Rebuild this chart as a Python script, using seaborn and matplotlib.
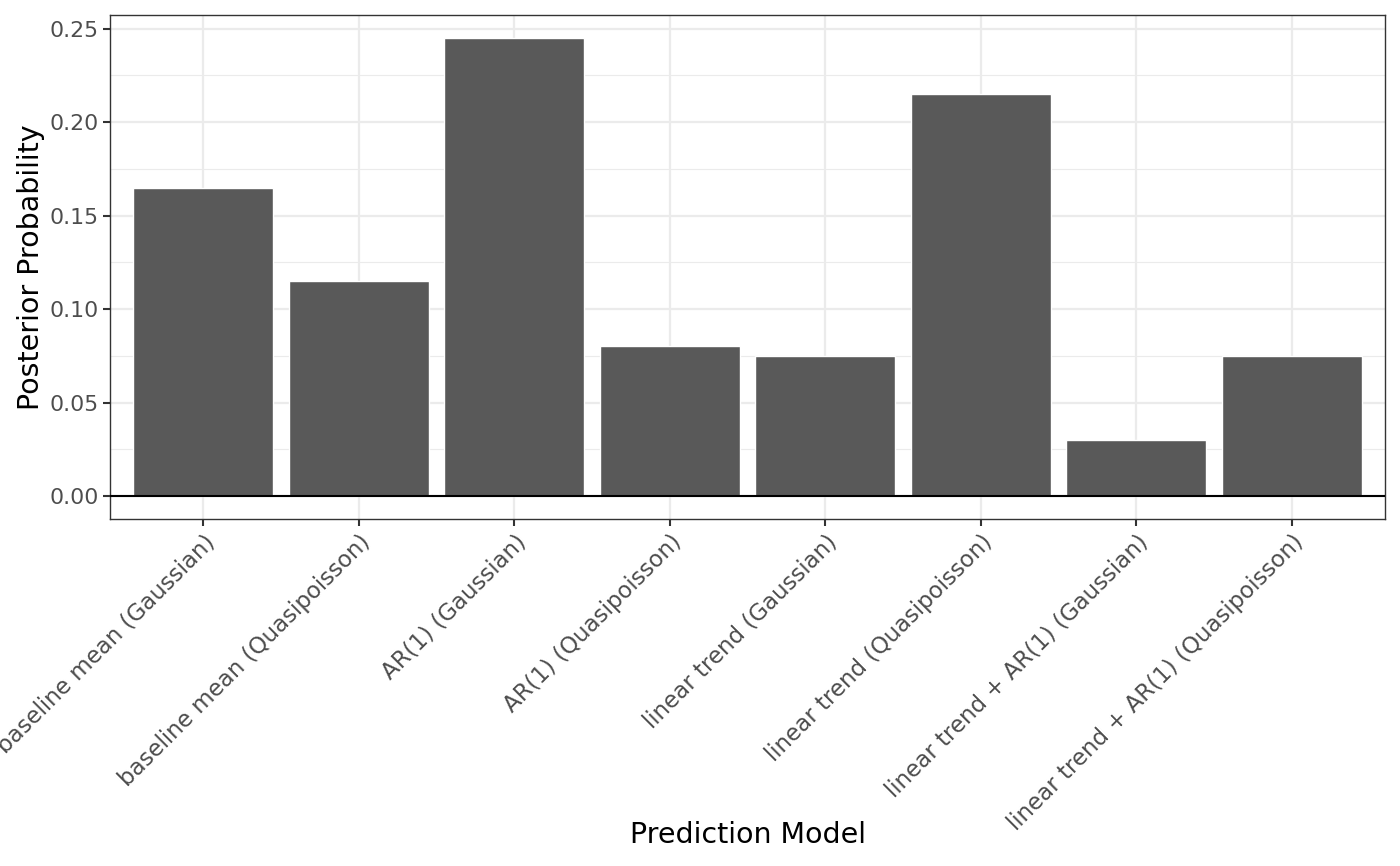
import matplotlib
matplotlib.use('Agg')
import matplotlib.pyplot as plt
import seaborn as sns
import pandas as pd
from matplotlib.ticker import MultipleLocator

models = [
    'baseline mean (Gaussian)',
    'baseline mean (Quasipoisson)',
    'AR(1) (Gaussian)',
    'AR(1) (Quasipoisson)',
    'linear trend (Gaussian)',
    'linear trend (Quasipoisson)',
    'linear trend + AR(1) (Gaussian)',
    'linear trend + AR(1) (Quasipoisson)',
]
probs = [0.165, 0.115, 0.245, 0.080, 0.075, 0.215, 0.030, 0.075]

df = pd.DataFrame({'model': models, 'prob': probs})

sns.set_theme(style='white')
plt.rcParams['font.family'] = ['DejaVu Sans']

fig = plt.figure(figsize=(14, 8.66), dpi=100)
ax = fig.add_axes([0.0786, 0.4007, 0.9107, 0.582])

sns.barplot(data=df, x='model', y='prob', color='#595959', saturation=1,
            width=0.9, ax=ax, zorder=3)

ax.axhline(0, color='black', lw=1.5, zorder=4)

ax.set_xlim(-0.6, len(models) - 0.4)
ax.set_ylim(-0.01225, 0.25725)
ax.yaxis.set_major_locator(MultipleLocator(0.05))
ax.yaxis.set_minor_locator(MultipleLocator(0.025))
ax.set_yticklabels([f'{v:.2f}' for v in ax.get_yticks()])

ax.grid(True, which='major', color='#EBEBEB', lw=1.6, zorder=0)
ax.grid(True, which='minor', axis='y', color='#EBEBEB', lw=0.8, zorder=0)
ax.set_axisbelow(True)

for s in ax.spines.values():
    s.set_color('#333333')
    s.set_linewidth(1.0)

ax.tick_params(axis='y', which='major', length=5, width=1.5, color='#333333',
               labelcolor='#4D4D4D', labelsize=15.8, left=True, pad=3)
ax.tick_params(axis='x', which='major', length=5, width=1.5, color='#333333',
               labelcolor='#4D4D4D', labelsize=16.5, bottom=True, pad=3)
ax.tick_params(axis='y', which='minor', length=0)
plt.setp(ax.get_xticklabels(), rotation=45, ha='right', va='top',
         rotation_mode='anchor')

# the first tick label runs off the left edge, as in the original
ax.set_xlabel('Prediction Model', fontsize=20.5, color='black')
ax.xaxis.set_label_coords(0.5, -0.627)
ax.xaxis.label.set_va('center')
ax.set_ylabel('Posterior Probability', fontsize=20.5, color='black', labelpad=3)

fig.savefig('out.png', dpi=100)
